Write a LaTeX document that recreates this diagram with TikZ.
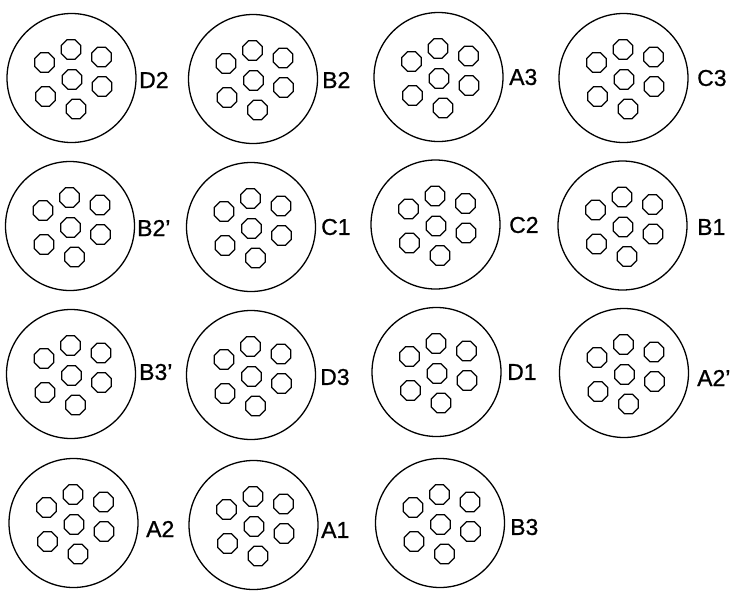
\documentclass[tikz,border=0pt]{standalone}
\usepackage{fontspec}
\setmainfont{Liberation Sans}
\newfontfamily\labfont[FakeBold=0.8]{Liberation Sans}
\usetikzlibrary{shapes.geometric}
\tikzset{
  bigcirc/.style={circle, draw, line width=1.3pt, minimum size=129pt, inner sep=0pt},
  oct/.style={regular polygon, regular polygon sides=8, draw, line width=1.3pt, minimum size=21pt, inner sep=0pt},
  plab/.style={anchor=west, inner sep=0pt, font=\labfont\fontsize{23}{23}\selectfont}
}
\newcommand\plugdraw[6]{%
  \node[bigcirc] (#1) at (#2,#3) {};
  \begin{scope}[shift={(#2,#3)}]
    \node[oct] (#1-t) at (-0.5,-28.5) {};
    \node[oct] (#1-ul) at (-27,-15.5) {};
    \node[oct] (#1-ur) at (30,-21) {};
    \node[oct] (#1-c) at (0.5,1.5) {};
    \node[oct] (#1-r) at (30.5,8.5) {};
    \node[oct] (#1-ll) at (-26,18.5) {};
    \node[oct] (#1-b) at (4.5,31) {};
  \end{scope}
  \node[plab] (#1-lab) at (#5,#6) {#4};
}
\begin{document}
\begin{tikzpicture}[x=1pt,y=-1pt]
\useasboundingbox (0,0) rectangle (737,590);
\plugdraw{p1}{71.5}{78}{D2}{139}{80}
\plugdraw{p2}{253}{79}{B2}{322}{80}
\plugdraw{p3}{438.5}{77}{A3}{509}{77}
\plugdraw{p4}{623.5}{78}{C3}{697}{78}
\plugdraw{p5}{70}{226}{B2’}{137}{228}
\plugdraw{p6}{251}{227}{C1}{321}{227}
\plugdraw{p7}{435.5}{224.5}{C2}{509}{225}
\plugdraw{p8}{622.5}{225.5}{B1}{697}{227}
\plugdraw{p9}{71}{374}{B3’}{139}{372}
\plugdraw{p10}{251}{375}{D3}{320}{377}
\plugdraw{p11}{436.5}{372}{D1}{507}{372}
\plugdraw{p12}{624}{373}{A2’}{697}{378}
\plugdraw{p13}{73.5}{523}{A2}{146}{529}
\plugdraw{p14}{253.5}{525}{A1}{321}{530}
\plugdraw{p15}{440}{523}{B3}{510}{527}
\end{tikzpicture}
\end{document}
